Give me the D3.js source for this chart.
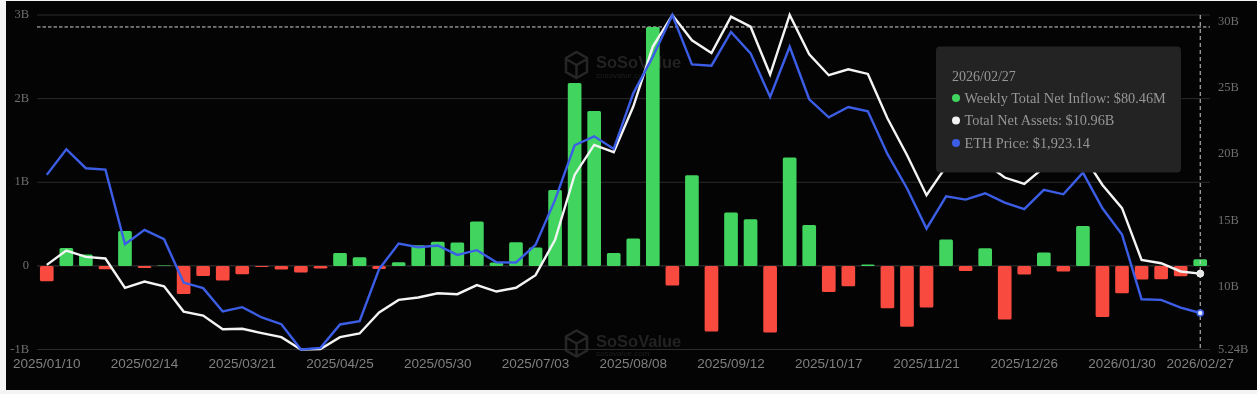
<!DOCTYPE html>
<html>
<head>
<meta charset="utf-8">
<script src="https://cdn.jsdelivr.net/npm/d3@7"></script>
<style>
  html, body { margin: 0; padding: 0; background: #f4f4f4; overflow: hidden; }
  svg { display: block; filter: blur(0.35px); }
  .serif { font-family: "Liberation Serif", serif; }
  .sans { font-family: "Liberation Sans", sans-serif; }
</style>
</head>
<body>
<svg id="chart" width="1257" height="394"></svg>
<script>
// chart data -------------------------------------------------------------------
const dates = [
  '2025/01/10','2025/01/17','2025/01/24','2025/01/31','2025/02/07','2025/02/14','2025/02/21','2025/02/28','2025/03/07','2025/03/14',
  '2025/03/21','2025/03/28','2025/04/04','2025/04/11','2025/04/18','2025/04/25','2025/05/02','2025/05/09','2025/05/16','2025/05/23',
  '2025/05/30','2025/06/06','2025/06/13','2025/06/20','2025/06/27','2025/07/03','2025/07/11','2025/07/18','2025/07/25','2025/08/01',
  '2025/08/08','2025/08/15','2025/08/22','2025/08/29','2025/09/05','2025/09/12','2025/09/19','2025/09/26','2025/10/03','2025/10/10',
  '2025/10/17','2025/10/24','2025/10/31','2025/11/07','2025/11/14','2025/11/21','2025/11/28','2025/12/05','2025/12/12','2025/12/19',
  '2025/12/26','2026/01/02','2026/01/09','2026/01/16','2026/01/23','2026/01/30','2026/02/06','2026/02/13','2026/02/20','2026/02/27'
];

// weekly net inflow, $M
const netInflow = [
  -183, 215, 135, -40, 418, -24, 4, -335, -120, -175,
  -100, -12, -44, -80, -32, 155, 104, -36, 44, 247,
  287, 279, 530, 40, 283, 219, 908, 2187, 1853, 155,
  327, 2857, -235, 1084, -785, 637, 558, -797, 1295, 490,
  -311, -243, 16, -506, -729, -498, 315, -60, 211, -641,
  -104, 159, -68, 478, -610, -327, -163, -159, -124, 80.46
];

// total net assets, $B
const netAssets = [
  11.62, 12.70, 12.22, 12.10, 9.89, 10.36, 10.01, 8.10, 7.80, 6.77,
  6.80, 6.47, 6.17, 5.24, 5.27, 6.17, 6.45, 8.03, 8.98, 9.16,
  9.48, 9.41, 10.09, 9.61, 9.89, 10.84, 13.50, 18.40, 20.66, 20.11,
  23.55, 28.07, 30.45, 28.54, 27.59, 30.32, 29.57, 25.96, 30.45, 27.49,
  25.91, 26.36, 26.01, 22.67, 19.90, 16.87, 19.03, 18.77, 19.28, 18.20,
  17.72, 18.95, 19.28, 19.90, 17.64, 15.89, 11.99, 11.74, 11.12, 10.96
];

// ETH price, $
const ethPrice = [
  3247, 3493, 3311, 3298, 2582, 2720, 2630, 2215, 2161, 1937,
  1979, 1880, 1816, 1573, 1589, 1813, 1844, 2343, 2589, 2554,
  2570, 2480, 2525, 2410, 2407, 2576, 3007, 3531, 3617, 3496,
  4029, 4381, 4780, 4307, 4294, 4617, 4412, 3994, 4476, 3972,
  3799, 3898, 3857, 3448, 3119, 2732, 3042, 3010, 3071, 2982,
  2918, 3103, 3061, 3269, 2927, 2675, 2055, 2049, 1975, 1923.14
];

const xTickDates = ['2025/01/10','2025/02/14','2025/03/21','2025/04/25','2025/05/30','2025/07/03','2025/08/08','2025/09/12','2025/10/17','2025/11/21','2025/12/26','2026/01/30','2026/02/27'];
const leftTicks = [-1000, 0, 1000, 2000, 3000];
const leftTickLabels = ['-1B', '0', '1B', '2B', '3B'];
const rightTicks = [5.24, 10, 15, 20, 25, 30];
const rightTickLabels = ['5.24B', '10B', '15B', '20B', '25B', '30B'];
const tooltipRows = [
  { color: '#3fd45d', text: 'Weekly Total Net Inflow: $80.46M' },
  { color: '#f2f2f2', text: 'Total Net Assets: $10.96B' },
  { color: '#3c5ee6', text: 'ETH Price: $1,923.14' }
];

const green = '#41d55f', red = '#f94a40', blue = '#3c5ee6', white = '#f4f4f4';

// scales -----------------------------------------------------------------------
const plotLeft = 37, plotRight = 1210, plotTop = 15, plotBottom = 349.5;
const x = d3.scaleBand().domain(dates).range([plotLeft, plotRight]).paddingInner(0.3).paddingOuter(0.15);
const yBar = d3.scaleLinear().domain([-1000, 3000]).range([plotBottom, plotTop]);
const yAssets = d3.scaleLinear().domain([5.24, 30.45]).range([plotBottom, plotTop]);
const yPrice = d3.scaleLinear().domain([1573, 4780]).range([plotBottom, plotTop]);
const cx = d => x(d) + x.bandwidth() / 2;

const svg = d3.select('#chart');
svg.append('rect').attr('x', 6).attr('y', 1).attr('width', 1251).attr('height', 389).attr('fill', '#040404');

// watermarks
[0, 278.5].forEach(dy => {
  const w = svg.append('g').attr('transform', `translate(0,${dy})`);
  w.append('path')
    .attr('d', 'M566,58 L576.5,52 L587,58 L587,72 L576.5,78 L566,72 Z M576.5,65 L566,59 M576.5,65 L587,59 M576.5,65 L576.5,78')
    .attr('fill', 'none').attr('stroke', '#262626').attr('stroke-width', 2.5);
  w.append('text').attr('class', 'sans').attr('x', 596).attr('y', 68)
    .attr('font-size', 16.5).attr('font-weight', 700).attr('fill', '#222222').text('SoSoValue');
  w.append('text').attr('class', 'sans').attr('x', 596).attr('y', 77.5)
    .attr('font-size', 8).attr('fill', '#1e1e1e').text('sosovalue.com');
});

// grid and axes ----------------------------------------------------------------
svg.append('g').selectAll('line').data(leftTicks).join('line')
  .attr('x1', plotLeft).attr('x2', plotRight)
  .attr('y1', d => yBar(d)).attr('y2', d => yBar(d))
  .attr('stroke', d => d === 0 ? '#3a3a3a' : '#2b2b2b').attr('stroke-width', 1);

const leftAxis = d3.axisLeft(yBar).tickValues(leftTicks).tickSize(0)
  .tickFormat((d, i) => leftTickLabels[i]);
const leftG = svg.append('g').attr('class', 'serif').attr('transform', 'translate(29,0)').call(leftAxis);
leftG.select('.domain').remove();
leftG.selectAll('text').attr('x', 0).attr('y', -1.5).attr('dy', '0.32em').attr('font-size', 12.5).attr('fill', '#6f6f6f');

const rightAxis = d3.axisRight(yAssets).tickValues(rightTicks).tickSize(0)
  .tickFormat((d, i) => rightTickLabels[i]);
const rightG = svg.append('g').attr('class', 'serif').attr('transform', 'translate(1218,0)').call(rightAxis);
rightG.select('.domain').remove();
rightG.selectAll('text').attr('x', 0).attr('y', -0.7).attr('dy', '0.32em').attr('font-size', 12.5).attr('fill', '#6f6f6f');

const xAxis = d3.axisBottom(x).tickValues(xTickDates).tickSize(0);
const xG = svg.append('g').attr('class', 'sans').attr('transform', 'translate(0,358)').call(xAxis);
xG.select('.domain').remove();
xG.selectAll('text').attr('y', 0).attr('dy', '0.71em').attr('font-size', 13.5).attr('fill', '#808080');

// max line
svg.append('line').attr('x1', plotLeft).attr('x2', plotRight)
  .attr('y1', yBar(d3.max(netInflow))).attr('y2', yBar(d3.max(netInflow)))
  .attr('stroke', '#d0d0d0').attr('stroke-width', 1).attr('stroke-dasharray', '3.5 2');

// bars -------------------------------------------------------------------------
svg.append('g').selectAll('rect').data(netInflow).join('rect')
  .attr('x', (d, i) => x(dates[i]))
  .attr('width', x.bandwidth())
  .attr('y', d => Math.min(yBar(d), yBar(0)))
  .attr('height', d => Math.abs(yBar(d) - yBar(0)))
  .attr('rx', 1.5)
  .attr('fill', d => d >= 0 ? green : red);

// lines ------------------------------------------------------------------------
const assetsLine = d3.line().x((d, i) => cx(dates[i])).y(d => yAssets(d));
const priceLine = d3.line().x((d, i) => cx(dates[i])).y(d => yPrice(d));
svg.append('path').attr('d', assetsLine(netAssets)).attr('fill', 'none').attr('stroke', white).attr('stroke-width', 2.4);
svg.append('path').attr('d', priceLine(ethPrice)).attr('fill', 'none').attr('stroke', blue).attr('stroke-width', 2.4);

// crosshair on the last date
const lastDate = dates[dates.length - 1];
svg.append('line').attr('x1', cx(lastDate)).attr('x2', cx(lastDate))
  .attr('y1', plotTop).attr('y2', plotBottom)
  .attr('stroke', '#d0d0d0').attr('stroke-width', 1).attr('stroke-dasharray', '4 3');

svg.append('circle').attr('cx', cx(lastDate)).attr('cy', yAssets(netAssets[59]))
  .attr('r', 3.5).attr('fill', '#e6e6e6').attr('stroke', '#f4f4f4');
svg.append('circle').attr('cx', cx(lastDate)).attr('cy', yPrice(ethPrice[59]))
  .attr('r', 3).attr('fill', '#dfe5ff').attr('stroke', blue).attr('stroke-width', 1.6);

// tooltip ----------------------------------------------------------------------
const tip = svg.append('g').attr('class', 'serif').attr('transform', 'translate(936,46.5)');
tip.append('rect').attr('width', 245).attr('height', 126).attr('rx', 4).attr('fill', '#232323');
tip.append('text').attr('x', 16).attr('y', 34).attr('font-size', 14).attr('fill', '#969696').text(lastDate);
const rows = tip.selectAll('g').data(tooltipRows).join('g')
  .attr('transform', (d, i) => `translate(0,${51.5 + i * 22.5})`);
rows.append('circle').attr('cx', 20).attr('r', 4).attr('fill', d => d.color);
rows.append('text').attr('x', 28.5).attr('dy', '0.32em').attr('font-size', 14.3).attr('fill', '#969696').text(d => d.text);
</script>
</body>
</html>
